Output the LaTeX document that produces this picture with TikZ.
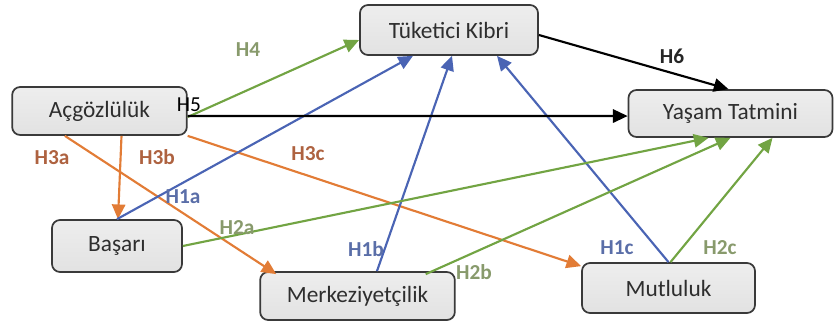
\documentclass[tikz,border=0pt]{standalone}
\usepackage{fontspec}
\setmainfont{Carlito}
\usetikzlibrary{arrows.meta}
\definecolor{boxfill}{HTML}{E2E2E2}
\definecolor{boxline}{HTML}{3A3A3A}
\definecolor{gline}{HTML}{72A443}
\definecolor{bline}{HTML}{4A64B4}
\definecolor{oline}{HTML}{E27C36}
\definecolor{glab}{HTML}{889A6C}
\definecolor{blab}{HTML}{5A6EA8}
\definecolor{olab}{HTML}{AE6240}
\tikzset{
  box/.style={draw=boxline, line width=1.3pt, rounded corners=6pt, top color=boxfill!60!white, bottom color=boxfill,
    font=\fontsize{17.5}{20}\selectfont, text=black!82, inner sep=0pt},
  conn/.style={line width=1.6pt, -{Triangle[length=11pt,width=10pt]}},
  gcon/.style={conn, draw=gline},
  bcon/.style={conn, draw=bline},
  ocon/.style={conn, draw=oline},
  kcon/.style={conn, draw=black},
  lab/.style={font=\bfseries\fontsize{16}{18}\selectfont},
}
\begin{document}
\begin{tikzpicture}[x=0.75pt,y=-0.75pt]
\useasboundingbox (0,0) rectangle (835,324);
\node[box, minimum width=131pt, minimum height=36pt] (acg) at (99.5,111) {Açgözlülük};
\node[box, minimum width=133.5pt, minimum height=37.5pt] (tk) at (449,30) {Tüketici Kibri};
\node[box, minimum width=153pt, minimum height=35.25pt] (ys) at (730.5,113.5) {Yaşam Tatmini};
\node[box, minimum width=97.5pt, minimum height=39pt] (bas) at (117,246) {Başarı};
\node[box, minimum width=146pt, minimum height=36pt] (mk) at (357.5,296) {Merkeziyetçilik};
\node[box, minimum width=129.75pt, minimum height=37.5pt] (mu) at (668.5,288) {Mutluluk};

% orange
\draw[ocon] ([xshift=16.5pt]acg.south) -- ([xshift=0.75pt]bas.north);
\draw[ocon] ([xshift=-26pt]acg.south) -- ([xshift=12.75pt,yshift=-2.25pt]mk.north west);
\draw[ocon] (acg.south east) -- ([yshift=-3pt]mu.north west);
% blue
\draw[bcon] (bas.north) -- ([xshift=-27pt]tk.south);
\draw[bcon] ([xshift=14.6pt]mk.north) -- ([xshift=2.25pt]tk.south);
\draw[bcon] (mu.north) -- ([xshift=36pt]tk.south);
% green
\draw[gcon] (bas.east) -- ([xshift=-16.5pt]ys.south);
\draw[gcon] ([xshift=-22.5pt,yshift=-2.25pt]mk.north east) -- ([xshift=0pt]ys.south);
\draw[gcon] ([xshift=1.5pt]mu.north) -- ([xshift=31.5pt]ys.south);
\draw[gcon] ([yshift=-4.5pt]acg.east) -- ([yshift=-7.5pt]tk.west);
% black
\draw[kcon] ([yshift=-3.75pt]acg.east) -- ([yshift=-1.9pt]ys.west);
\draw[kcon] ([yshift=-3.75pt]tk.east) -- ([xshift=-1.5pt]ys.north);

% labels
\node[lab, text=glab] (l4) at (248,50) {H4};
\node[font=\fontsize{16}{18}\selectfont, text=black] (l5) at (189,105) {H5};
\node[lab, text=black!85] (l6) at (672,56) {H6};
\node[lab, text=olab] (l3a) at (52,158) {H3a};
\node[lab, text=olab] (l3b) at (157,157) {H3b};
\node[lab, text=olab] (l3c) at (308,154) {H3c};
\node[lab, text=blab] (l1a) at (183,197) {H1a};
\node[lab, text=blab] (l1b) at (366,249) {H1b};
\node[lab, text=blab] (l1c) at (617,248) {H1c};
\node[lab, text=glab] (l2a) at (237,228) {H2a};
\node[lab, text=glab] (l2b) at (474,272) {H2b};
\node[lab, text=glab] (l2c) at (720,248) {H2c};
\end{tikzpicture}
\end{document}
